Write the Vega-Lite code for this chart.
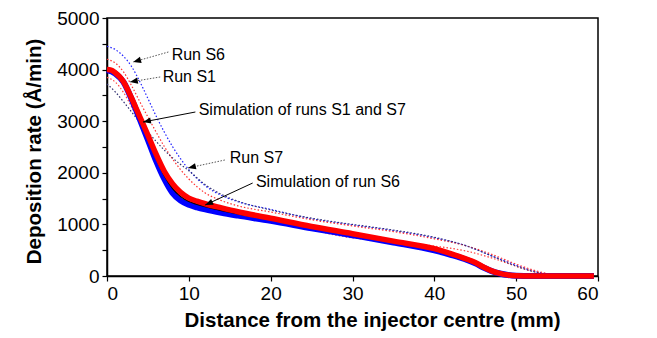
{
  "$schema": "https://vega.github.io/schema/vega-lite/v6.json",
  "width": 491,
  "height": 258,
  "autosize": {"type": "none"},
  "padding": {"left": 107, "top": 18, "right": 59, "bottom": 62},
  "background": "white",
  "view": {"stroke": "black", "strokeWidth": 1.5},
  "config": {
    "font": "Liberation Sans",
    "axis": {
      "grid": false,
      "domainColor": "black",
      "domainWidth": 1.5,
      "tickColor": "black",
      "tickWidth": 1.2,
      "tickSize": 5,
      "labelFont": "Liberation Sans",
      "labelFontSize": 19,
      "labelColor": "black",
      "labelPadding": 3,
      "titleFont": "Liberation Sans",
      "titleFontSize": 20.5,
      "titleFontWeight": "bold",
      "titleColor": "black"
    }
  },
  "datasets": {
    "curves": [
      {"s": "S6run", "x": 0, "y": 4450}, {"s": "S6run", "x": 1, "y": 4390}, {"s": "S6run", "x": 2, "y": 4260}, {"s": "S6run", "x": 3, "y": 4060}, {"s": "S6run", "x": 4, "y": 3770}, {"s": "S6run", "x": 5, "y": 3440}, {"s": "S6run", "x": 6, "y": 3100}, {"s": "S6run", "x": 7, "y": 2790}, {"s": "S6run", "x": 8, "y": 2510}, {"s": "S6run", "x": 9, "y": 2270}, {"s": "S6run", "x": 10, "y": 2060}, {"s": "S6run", "x": 12, "y": 1750}, {"s": "S6run", "x": 14, "y": 1560}, {"s": "S6run", "x": 16, "y": 1440}, {"s": "S6run", "x": 20, "y": 1290}, {"s": "S6run", "x": 25, "y": 1110}, {"s": "S6run", "x": 30, "y": 990}, {"s": "S6run", "x": 35, "y": 880}, {"s": "S6run", "x": 40, "y": 740}, {"s": "S6run", "x": 44, "y": 580}, {"s": "S6run", "x": 47, "y": 390}, {"s": "S6run", "x": 50, "y": 210}, {"s": "S6run", "x": 52, "y": 100}, {"s": "S6run", "x": 54, "y": 30},
      {"s": "S1run", "x": 0, "y": 4200}, {"s": "S1run", "x": 1, "y": 4130}, {"s": "S1run", "x": 2, "y": 3960}, {"s": "S1run", "x": 3, "y": 3690}, {"s": "S1run", "x": 4, "y": 3380}, {"s": "S1run", "x": 5, "y": 3080}, {"s": "S1run", "x": 6, "y": 2790}, {"s": "S1run", "x": 7, "y": 2510}, {"s": "S1run", "x": 8, "y": 2270}, {"s": "S1run", "x": 9, "y": 2060}, {"s": "S1run", "x": 10, "y": 1880}, {"s": "S1run", "x": 12, "y": 1610}, {"s": "S1run", "x": 14, "y": 1460}, {"s": "S1run", "x": 16, "y": 1360}, {"s": "S1run", "x": 20, "y": 1240}, {"s": "S1run", "x": 25, "y": 1090}, {"s": "S1run", "x": 30, "y": 970}, {"s": "S1run", "x": 35, "y": 860}, {"s": "S1run", "x": 40, "y": 720}, {"s": "S1run", "x": 44, "y": 580}, {"s": "S1run", "x": 47, "y": 420}, {"s": "S1run", "x": 50, "y": 230}, {"s": "S1run", "x": 52, "y": 120}, {"s": "S1run", "x": 54.3, "y": 30},
      {"s": "S1runB", "x": 0, "y": 3850}, {"s": "S1runB", "x": 1, "y": 3760}, {"s": "S1runB", "x": 2, "y": 3560}, {"s": "S1runB", "x": 3, "y": 3280}, {"s": "S1runB", "x": 4, "y": 2960}, {"s": "S1runB", "x": 5, "y": 2620}, {"s": "S1runB", "x": 6, "y": 2300}, {"s": "S1runB", "x": 7, "y": 2030}, {"s": "S1runB", "x": 8, "y": 1800}, {"s": "S1runB", "x": 9, "y": 1620}, {"s": "S1runB", "x": 10, "y": 1470}, {"s": "S1runB", "x": 12, "y": 1300}, {"s": "S1runB", "x": 14, "y": 1220}, {"s": "S1runB", "x": 16, "y": 1160}, {"s": "S1runB", "x": 20, "y": 1060}, {"s": "S1runB", "x": 25, "y": 900}, {"s": "S1runB", "x": 28, "y": 790}, {"s": "S1runB", "x": 30, "y": 740}, {"s": "S1runB", "x": 35, "y": 660}, {"s": "S1runB", "x": 40, "y": 580}, {"s": "S1runB", "x": 44, "y": 480}, {"s": "S1runB", "x": 47, "y": 350}, {"s": "S1runB", "x": 50, "y": 190}, {"s": "S1runB", "x": 52, "y": 90}, {"s": "S1runB", "x": 54.5, "y": 20},
      {"s": "S7run", "x": 0, "y": 3720}, {"s": "S7run", "x": 1, "y": 3570}, {"s": "S7run", "x": 2, "y": 3380}, {"s": "S7run", "x": 3, "y": 3180}, {"s": "S7run", "x": 4, "y": 2980}, {"s": "S7run", "x": 5, "y": 2790}, {"s": "S7run", "x": 6, "y": 2610}, {"s": "S7run", "x": 7, "y": 2440}, {"s": "S7run", "x": 8, "y": 2290}, {"s": "S7run", "x": 9, "y": 2160}, {"s": "S7run", "x": 10, "y": 2040}, {"s": "S7run", "x": 12, "y": 1770}, {"s": "S7run", "x": 14, "y": 1580}, {"s": "S7run", "x": 16, "y": 1450}, {"s": "S7run", "x": 20, "y": 1280}, {"s": "S7run", "x": 25, "y": 1120}, {"s": "S7run", "x": 30, "y": 1000}, {"s": "S7run", "x": 35, "y": 890}, {"s": "S7run", "x": 40, "y": 750}, {"s": "S7run", "x": 44, "y": 580}, {"s": "S7run", "x": 47, "y": 390}, {"s": "S7run", "x": 50, "y": 190}, {"s": "S7run", "x": 52, "y": 90}, {"s": "S7run", "x": 54, "y": 20},
      {"s": "S6sim", "x": 0, "y": 3990}, {"s": "S6sim", "x": 1, "y": 3925}, {"s": "S6sim", "x": 2, "y": 3760}, {"s": "S6sim", "x": 3, "y": 3430}, {"s": "S6sim", "x": 4, "y": 3040}, {"s": "S6sim", "x": 5, "y": 2640}, {"s": "S6sim", "x": 6, "y": 2230}, {"s": "S6sim", "x": 7, "y": 1880}, {"s": "S6sim", "x": 8, "y": 1610}, {"s": "S6sim", "x": 9, "y": 1460}, {"s": "S6sim", "x": 10, "y": 1380}, {"s": "S6sim", "x": 11, "y": 1330}, {"s": "S6sim", "x": 12, "y": 1290}, {"s": "S6sim", "x": 14, "y": 1225}, {"s": "S6sim", "x": 16, "y": 1170}, {"s": "S6sim", "x": 20, "y": 1070}, {"s": "S6sim", "x": 25, "y": 925}, {"s": "S6sim", "x": 30, "y": 790}, {"s": "S6sim", "x": 35, "y": 650}, {"s": "S6sim", "x": 40, "y": 495}, {"s": "S6sim", "x": 42, "y": 410}, {"s": "S6sim", "x": 44, "y": 310}, {"s": "S6sim", "x": 45, "y": 245}, {"s": "S6sim", "x": 46, "y": 165}, {"s": "S6sim", "x": 47, "y": 95}, {"s": "S6sim", "x": 48, "y": 48}, {"s": "S6sim", "x": 49, "y": 18}, {"s": "S6sim", "x": 50, "y": 5}, {"s": "S6sim", "x": 52, "y": 0}, {"s": "S6sim", "x": 59.5, "y": 0},
      {"s": "Bsim", "x": 0, "y": 4010}, {"s": "Bsim", "x": 1, "y": 3945}, {"s": "Bsim", "x": 2, "y": 3775}, {"s": "Bsim", "x": 3, "y": 3440}, {"s": "Bsim", "x": 4, "y": 3060}, {"s": "Bsim", "x": 5, "y": 2680}, {"s": "Bsim", "x": 6, "y": 2290}, {"s": "Bsim", "x": 7, "y": 1950}, {"s": "Bsim", "x": 8, "y": 1700}, {"s": "Bsim", "x": 9, "y": 1540}, {"s": "Bsim", "x": 10, "y": 1445}, {"s": "Bsim", "x": 11, "y": 1390}, {"s": "Bsim", "x": 12, "y": 1345}, {"s": "Bsim", "x": 14, "y": 1270}, {"s": "Bsim", "x": 16, "y": 1205}, {"s": "Bsim", "x": 20, "y": 1095}, {"s": "Bsim", "x": 25, "y": 945}, {"s": "Bsim", "x": 30, "y": 805}, {"s": "Bsim", "x": 35, "y": 660}, {"s": "Bsim", "x": 40, "y": 510}, {"s": "Bsim", "x": 42, "y": 420}, {"s": "Bsim", "x": 44, "y": 315}, {"s": "Bsim", "x": 45, "y": 250}, {"s": "Bsim", "x": 46, "y": 168}, {"s": "Bsim", "x": 47, "y": 98}, {"s": "Bsim", "x": 48, "y": 48}, {"s": "Bsim", "x": 49, "y": 18}, {"s": "Bsim", "x": 50, "y": 5}, {"s": "Bsim", "x": 52, "y": 0}, {"s": "Bsim", "x": 59.5, "y": 0},
      {"s": "S1sim", "x": 0, "y": 4000}, {"s": "S1sim", "x": 0.5, "y": 3990}, {"s": "S1sim", "x": 1, "y": 3940}, {"s": "S1sim", "x": 1.5, "y": 3870}, {"s": "S1sim", "x": 2, "y": 3770}, {"s": "S1sim", "x": 2.5, "y": 3620}, {"s": "S1sim", "x": 3, "y": 3450}, {"s": "S1sim", "x": 3.5, "y": 3270}, {"s": "S1sim", "x": 4, "y": 3090}, {"s": "S1sim", "x": 5, "y": 2730}, {"s": "S1sim", "x": 6, "y": 2360}, {"s": "S1sim", "x": 7, "y": 2030}, {"s": "S1sim", "x": 8, "y": 1790}, {"s": "S1sim", "x": 9, "y": 1620}, {"s": "S1sim", "x": 10, "y": 1510}, {"s": "S1sim", "x": 11, "y": 1450}, {"s": "S1sim", "x": 12, "y": 1400}, {"s": "S1sim", "x": 14, "y": 1320}, {"s": "S1sim", "x": 16, "y": 1245}, {"s": "S1sim", "x": 20, "y": 1120}, {"s": "S1sim", "x": 25, "y": 960}, {"s": "S1sim", "x": 30, "y": 820}, {"s": "S1sim", "x": 35, "y": 675}, {"s": "S1sim", "x": 40, "y": 530}, {"s": "S1sim", "x": 42, "y": 435}, {"s": "S1sim", "x": 44, "y": 325}, {"s": "S1sim", "x": 45, "y": 260}, {"s": "S1sim", "x": 46, "y": 175}, {"s": "S1sim", "x": 47, "y": 100}, {"s": "S1sim", "x": 48, "y": 50}, {"s": "S1sim", "x": 49, "y": 18}, {"s": "S1sim", "x": 50, "y": 5}, {"s": "S1sim", "x": 52, "y": 0}, {"s": "S1sim", "x": 59.5, "y": 0}
    ],
    "labels": [
      {"text": "Run S6", "x": 7.9, "y": 4283},
      {"text": "Run S1", "x": 6.8, "y": 3851},
      {"text": "Simulation of runs S1 and S7", "x": 11.2, "y": 3217},
      {"text": "Run S7", "x": 15.0, "y": 2281},
      {"text": "Simulation of run S6", "x": 18.2, "y": 1828}
    ],
    "arrows": [
      {"id": "a1", "kind": "run", "x": 7.5, "y": 4341, "x2": 3.2, "y2": 4147},
      {"id": "a2", "kind": "run", "x": 6.5, "y": 3857, "x2": 2.8, "y2": 3760},
      {"id": "a3", "kind": "sim", "x": 10.8, "y": 3178, "x2": 4.4, "y2": 2984},
      {"id": "a4", "kind": "run", "x": 14.4, "y": 2248, "x2": 9.9, "y2": 2093},
      {"id": "a5", "kind": "sim", "x": 17.8, "y": 1802, "x2": 12.0, "y2": 1376}
    ]
  },
  "encoding": {
    "x": {"field": "x", "type": "quantitative", "scale": {"domain": [0, 60], "nice": false}, "axis": {"values": [0, 10, 20, 30, 40, 50, 60], "title": "Distance from the injector centre (mm)", "titlePadding": 7, "titleX": 265}},
    "y": {"field": "y", "type": "quantitative", "scale": {"domain": [0, 5000], "nice": false}, "axis": {"values": [0, 500, 1000, 1500, 2000, 2500, 3000, 3500, 4000, 4500, 5000], "format": "d", "labelExpr": "datum.value % 1000 === 0 ? datum.label : ''", "title": "Deposition rate (Å/min)", "titlePadding": 12, "titleY": 133}}
  },
  "layer": [
    {
      "data": {"name": "curves"},
      "transform": [{"filter": "indexof(['S6run','S1run','S1runB','S7run'], datum.s) >= 0"}],
      "mark": {"type": "line", "strokeWidth": 1.2, "strokeDash": [1.5, 2], "interpolate": "monotone"},
      "encoding": {
        "color": {"field": "s", "type": "nominal", "scale": {"domain": ["S6run", "S1run", "S1runB", "S7run"], "range": ["#2020ff", "#ff3030", "#ff4040", "#303070"]}, "legend": null},
        "detail": {"field": "s"}
      }
    },
    {
      "data": {"name": "curves"},
      "transform": [{"filter": "datum.s === 'S6sim'"}],
      "mark": {"type": "line", "strokeWidth": 6, "color": "#0000ff", "interpolate": "monotone"},
      "encoding": {}
    },
    {
      "data": {"name": "curves"},
      "transform": [{"filter": "datum.s === 'Bsim'"}],
      "mark": {"type": "line", "strokeWidth": 1.5, "color": "black", "interpolate": "monotone"},
      "encoding": {}
    },
    {
      "data": {"name": "curves"},
      "transform": [{"filter": "datum.s === 'S1sim'"}],
      "mark": {"type": "line", "strokeWidth": 5.5, "color": "#ff0000", "interpolate": "monotone"},
      "encoding": {}
    },
    {
      "data": {"name": "arrows"},
      "transform": [{"filter": "datum.kind === 'run'"}],
      "mark": {"type": "rule", "strokeWidth": 1, "strokeDash": [1.5, 1.5], "color": "#555555"},
      "encoding": {"x2": {"field": "x2"}, "y2": {"field": "y2"}}
    },
    {
      "data": {"name": "arrows"},
      "transform": [{"filter": "datum.kind === 'sim'"}],
      "mark": {"type": "rule", "strokeWidth": 1, "color": "black"},
      "encoding": {"x2": {"field": "x2"}, "y2": {"field": "y2"}}
    },
    {
      "data": {"name": "arrows"},
      "transform": [{"filter": "datum.id === 'a1'"}],
      "mark": {"type": "point", "shape": "M0,0L-0.4,1L0.4,1Z", "size": 250, "filled": true, "color": "black", "opacity": 1, "angle": 254},
      "encoding": {"x": {"field": "x2", "type": "quantitative"}, "y": {"field": "y2", "type": "quantitative"}}
    },
    {
      "data": {"name": "arrows"},
      "transform": [{"filter": "datum.id === 'a2'"}],
      "mark": {"type": "point", "shape": "M0,0L-0.4,1L0.4,1Z", "size": 250, "filled": true, "color": "black", "opacity": 1, "angle": 260},
      "encoding": {"x": {"field": "x2", "type": "quantitative"}, "y": {"field": "y2", "type": "quantitative"}}
    },
    {
      "data": {"name": "arrows"},
      "transform": [{"filter": "datum.id === 'a3'"}],
      "mark": {"type": "point", "shape": "M0,0L-0.4,1L0.4,1Z", "size": 250, "filled": true, "color": "black", "opacity": 1, "angle": 259},
      "encoding": {"x": {"field": "x2", "type": "quantitative"}, "y": {"field": "y2", "type": "quantitative"}}
    },
    {
      "data": {"name": "arrows"},
      "transform": [{"filter": "datum.id === 'a4'"}],
      "mark": {"type": "point", "shape": "M0,0L-0.4,1L0.4,1Z", "size": 250, "filled": true, "color": "black", "opacity": 1, "angle": 257},
      "encoding": {"x": {"field": "x2", "type": "quantitative"}, "y": {"field": "y2", "type": "quantitative"}}
    },
    {
      "data": {"name": "arrows"},
      "transform": [{"filter": "datum.id === 'a5'"}],
      "mark": {"type": "point", "shape": "M0,0L-0.4,1L0.4,1Z", "size": 250, "filled": true, "color": "black", "opacity": 1, "angle": 246},
      "encoding": {"x": {"field": "x2", "type": "quantitative"}, "y": {"field": "y2", "type": "quantitative"}}
    },
    {
      "data": {"name": "labels"},
      "mark": {"type": "text", "align": "left", "baseline": "middle", "font": "Liberation Sans", "fontSize": 16, "color": "black"},
      "encoding": {"text": {"field": "text"}}
    }
  ]
}
